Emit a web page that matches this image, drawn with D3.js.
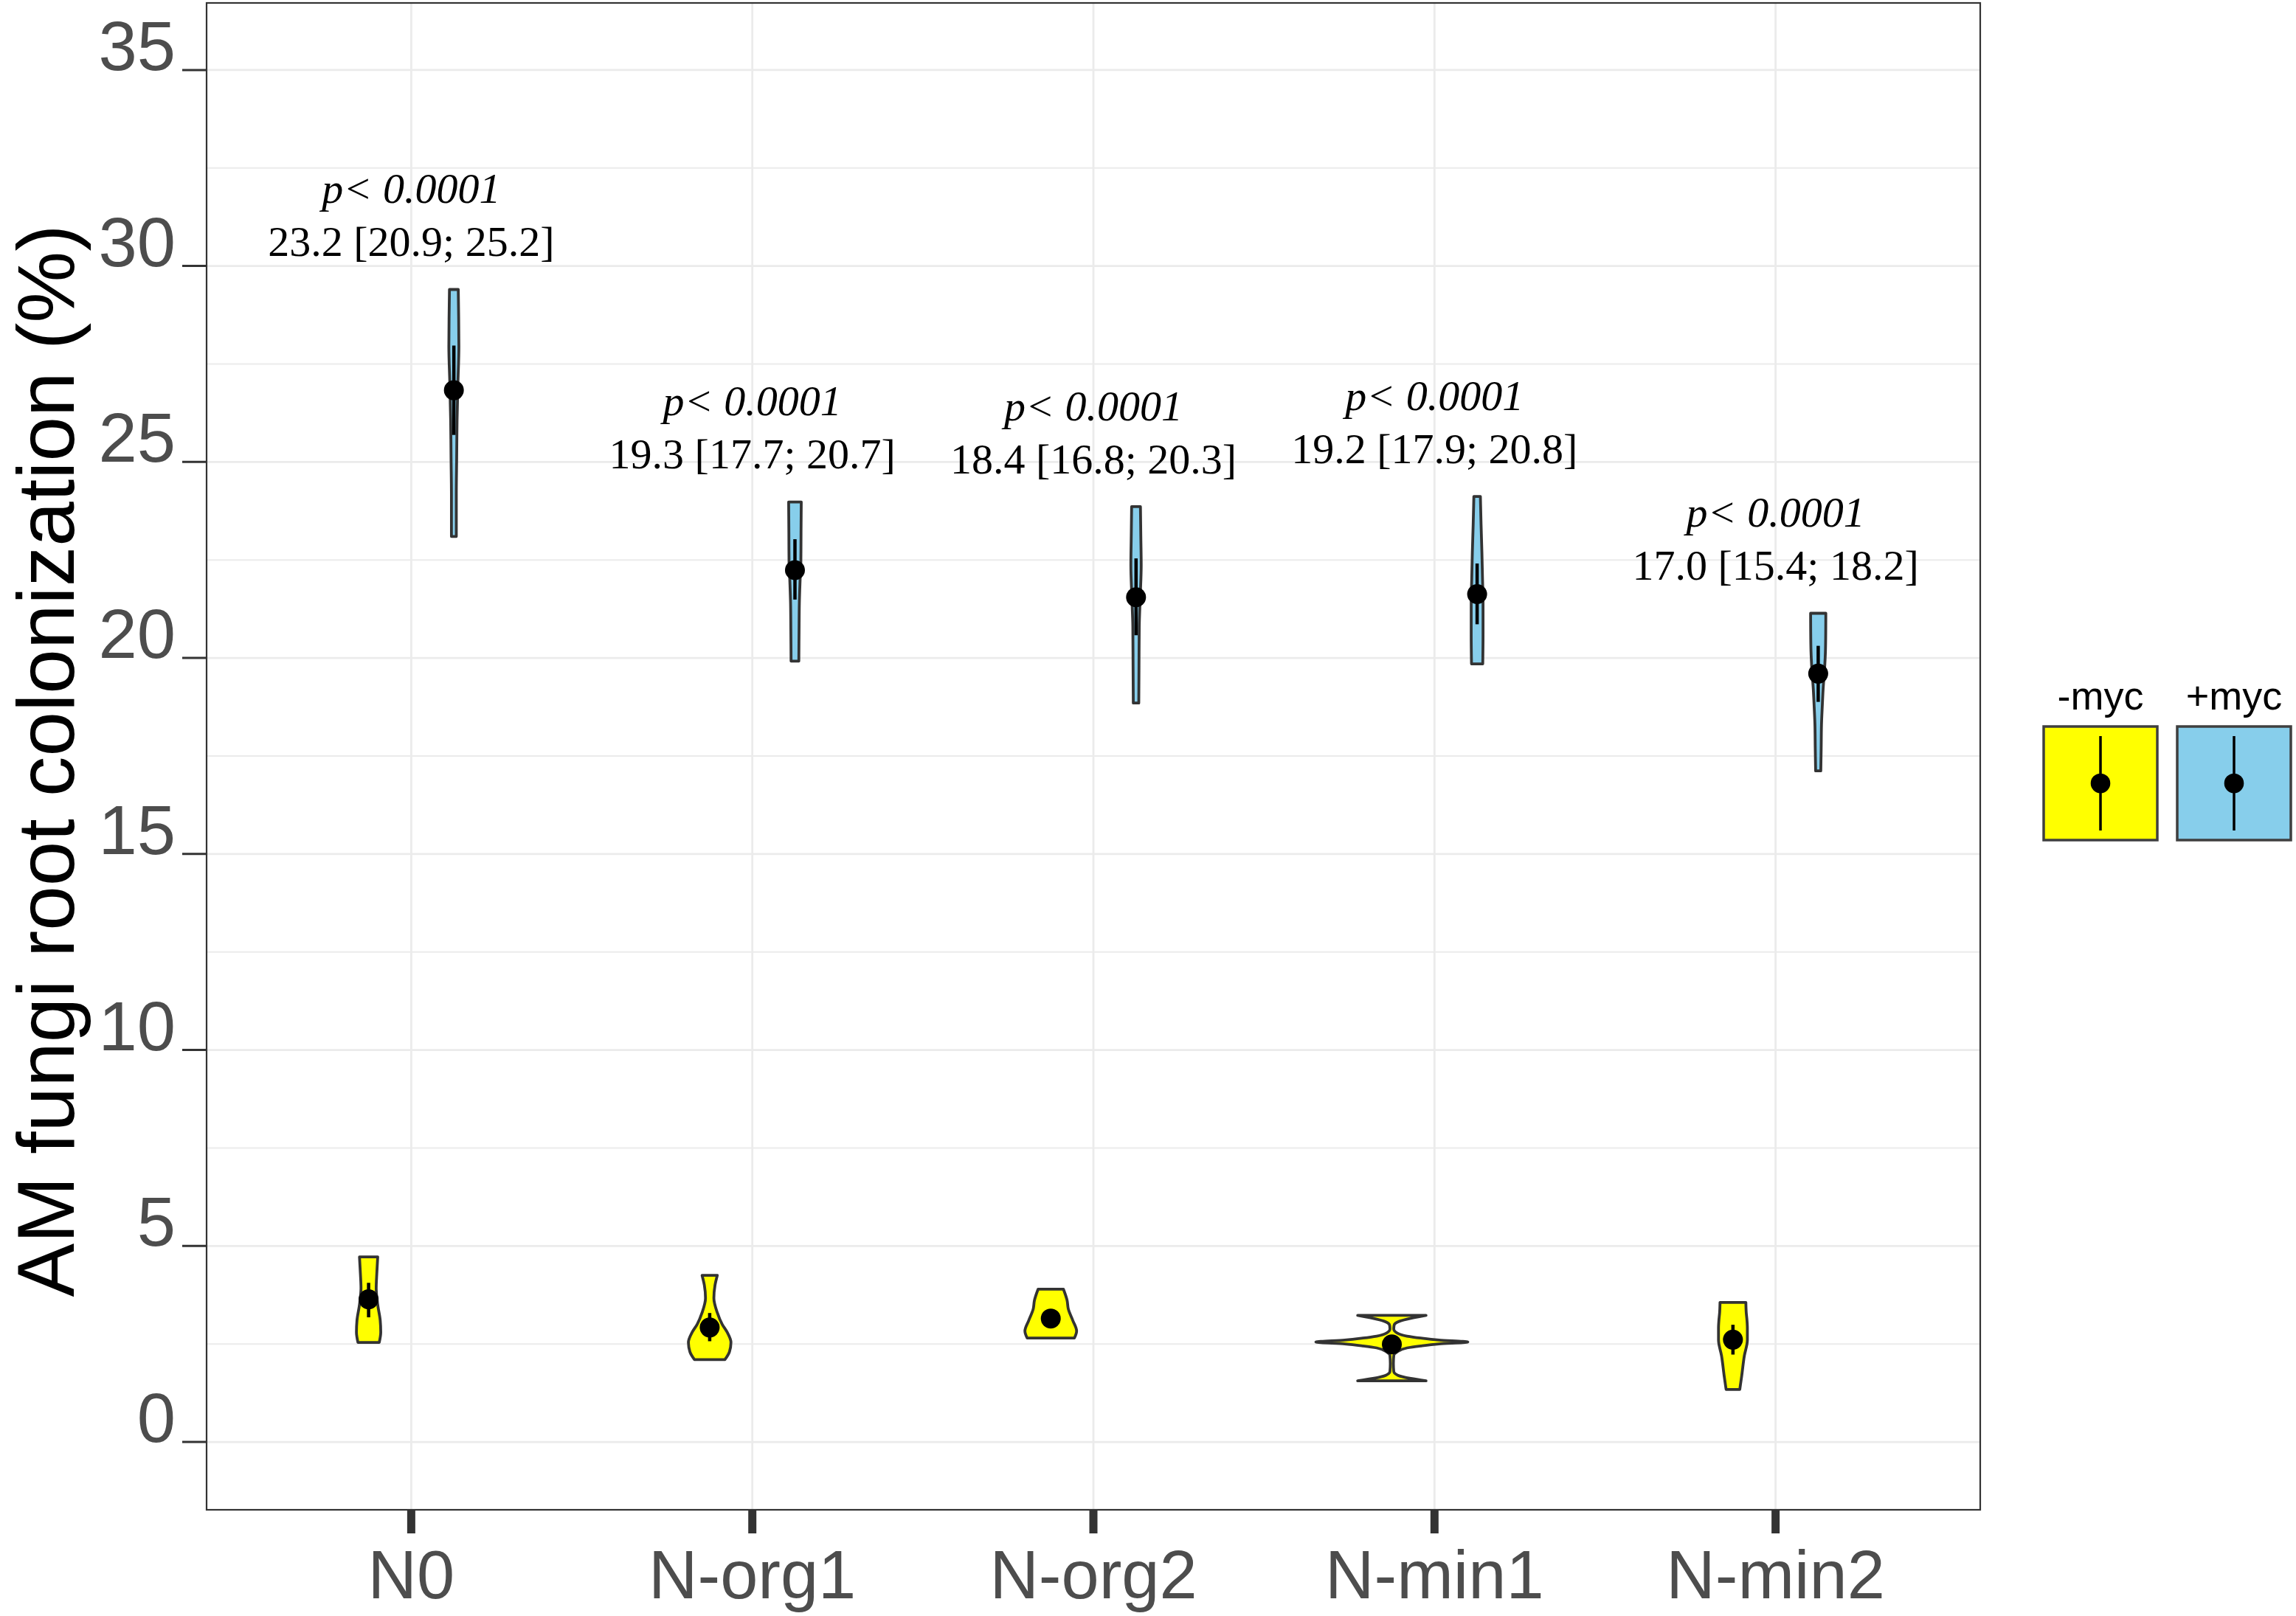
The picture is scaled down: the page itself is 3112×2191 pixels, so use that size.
<!DOCTYPE html>
<html>
<head>
<meta charset="utf-8">
<script src="https://cdn.jsdelivr.net/npm/d3@7"></script>
<style>
  html, body { margin: 0; padding: 0; background: #ffffff; }
  svg { display: block; }
</style>
</head>
<body>
<svg id="chart" width="3112" height="2191"></svg>
<script>
// ---------------- DATA ----------------
const categories = ["N0", "N-org1", "N-org2", "N-min1", "N-min2"];
const groups = ["-myc", "+myc"];
const groupColors = ["#FFFF00", "#87CEEB"];
const yTickValues = [0, 5, 10, 15, 20, 25, 30, 35];
const yMinorValues = [2.5, 7.5, 12.5, 17.5, 22.5, 27.5, 32.5];

// violin density profiles: [value, relative density]
const violinMinus = [
  [[2.54,0.14],[2.8,0.16],[3.1,0.153],[3.5,0.12],[3.92,0.10],[4.3,0.108],[4.72,0.12]],
  [[2.10,0.20],[2.3,0.26],[2.54,0.28],[2.8,0.23],[3.0,0.165],[3.3,0.10],[3.67,0.055],[4.0,0.07],[4.25,0.10]],
  [[2.65,0.31],[2.83,0.34],[3.1,0.29],[3.4,0.23],[3.61,0.215],[3.90,0.166]],
  [[1.56,0.45],[1.62,0.25],[1.70,0.08],[1.80,0.025],[2.0,0.02],[2.2,0.025],[2.30,0.07],[2.40,0.2],[2.45,0.38],[2.50,0.62],[2.55,1.0],[2.60,0.62],[2.65,0.38],[2.70,0.2],[2.78,0.07],[2.88,0.025],[2.98,0.03],[3.08,0.1],[3.16,0.26],[3.23,0.45]],
  [[1.34,0.09],[1.68,0.115],[2.2,0.15],[2.6,0.19],[2.9,0.19],[3.1,0.185],[3.3,0.175],[3.56,0.17]]
];
const violinPlus = [
  [[23.10,0.032],[24.18,0.032],[25.1,0.037],[26.06,0.042],[27.0,0.053],[27.94,0.066],[28.7,0.063],[29.40,0.058]],
  [[19.92,0.051],[20.7,0.054],[21.42,0.058],[22.0,0.068],[22.49,0.078],[23.2,0.08],[23.98,0.083]],
  [[18.85,0.036],[19.8,0.039],[20.79,0.042],[21.6,0.056],[22.36,0.068],[23.1,0.063],[23.86,0.058]],
  [[19.85,0.074],[20.6,0.078],[21.42,0.078],[22.0,0.071],[22.68,0.063],[23.4,0.052],[24.12,0.043]],
  [[17.12,0.034],[17.7,0.039],[18.29,0.043],[18.75,0.053],[19.22,0.065],[19.7,0.083],[20.17,0.095],[20.7,0.099],[21.14,0.10]]
];

// point estimates and intervals
const pointMinus = [3.64, 2.92, 3.15, 2.49, 2.61];
const ciMinusLow = [3.18, 2.57, 3.02, 2.40, 2.23];
const ciMinusHigh = [4.06, 3.29, 3.28, 2.58, 2.99];
const pointPlus = [26.83, 22.24, 21.55, 21.63, 19.60];
const ciPlusLow = [25.69, 21.49, 20.58, 20.86, 18.88];
const ciPlusHigh = [27.97, 23.03, 22.54, 22.41, 20.31];

// annotation labels
const pLabels = ["p< 0.0001", "p< 0.0001", "p< 0.0001", "p< 0.0001", "p< 0.0001"];
const diffLabels = ["23.2 [20.9; 25.2]", "19.3 [17.7; 20.7]", "18.4 [16.8; 20.3]", "19.2 [17.9; 20.8]", "17.0 [15.4; 18.2]"];

const yTitle = "AM fungi root colonization (%)";

// ---------------- LAYOUT ----------------
const panel = { left: 280, right: 2684, top: 4, bottom: 2047 };
const svg = d3.select("#chart");

const x = d3.scalePoint().domain(categories).range([panel.left, panel.right]).padding(0.6);
const step = x.step();
const dodge = d3.scalePoint().domain(groups).range([-step * 0.125, step * 0.125]);
const y = d3.scaleLinear().domain([-1.73, 36.71]).range([panel.bottom, panel.top]);
const w = d3.scaleLinear().domain([0, 1]).range([0, 103]);

// ---------------- GRID ----------------
const grid = svg.append("g");
grid.selectAll(".minor").data(yMinorValues).join("line")
  .attr("x1", panel.left).attr("x2", panel.right)
  .attr("y1", d => y(d)).attr("y2", d => y(d))
  .attr("stroke", "#ebebeb").attr("stroke-width", 2);
grid.selectAll(".major").data(yTickValues).join("line")
  .attr("x1", panel.left).attr("x2", panel.right)
  .attr("y1", d => y(d)).attr("y2", d => y(d))
  .attr("stroke", "#ebebeb").attr("stroke-width", 2.8);
grid.selectAll(".vmajor").data(categories).join("line")
  .attr("x1", d => x(d)).attr("x2", d => x(d))
  .attr("y1", panel.top).attr("y2", panel.bottom)
  .attr("stroke", "#ebebeb").attr("stroke-width", 2.8);

// ---------------- VIOLINS ----------------
const violinSets = [violinMinus, violinPlus];
const pointSets = [pointMinus, pointPlus];
const lowSets = [ciMinusLow, ciPlusLow];
const highSets = [ciMinusHigh, ciPlusHigh];

const marks = svg.append("g");
groups.forEach((g, gi) => {
  categories.forEach((c, ci) => {
    const cx = x(c) + dodge(g);
    const area = d3.area()
      .y(d => y(d[0]))
      .x0(d => cx - w(d[1]))
      .x1(d => cx + w(d[1]))
      .curve(d3.curveMonotoneY);
    marks.append("path")
      .datum(violinSets[gi][ci])
      .attr("d", area)
      .attr("fill", groupColors[gi])
      .attr("stroke", "#333333")
      .attr("stroke-width", 3.8)
      .attr("stroke-linejoin", "round");
  });
});
groups.forEach((g, gi) => {
  categories.forEach((c, ci) => {
    const cx = x(c) + dodge(g);
    marks.append("line")
      .attr("x1", cx).attr("x2", cx)
      .attr("y1", y(lowSets[gi][ci])).attr("y2", y(highSets[gi][ci]))
      .attr("stroke", "#000").attr("stroke-width", 4.5);
    marks.append("circle")
      .attr("cx", cx).attr("cy", y(pointSets[gi][ci]))
      .attr("r", 13.5).attr("fill", "#000");
  });
});

// ---------------- ANNOTATIONS ----------------
const ann = svg.append("g").attr("font-family", "'Liberation Serif', 'Times New Roman', serif")
  .attr("font-size", 58).attr("fill", "#000").attr("text-anchor", "middle");
categories.forEach((c, ci) => {
  const top = d3.max(violinPlus[ci], d => d[0]);
  const base = y(top + 0.85);
  ann.append("text").attr("x", x(c)).attr("y", base - 72)
    .attr("font-style", "italic").text(pLabels[ci]);
  ann.append("text").attr("x", x(c)).attr("y", base).text(diffLabels[ci]);
});

// ---------------- PANEL BORDER ----------------
svg.append("rect")
  .attr("x", panel.left).attr("y", panel.top)
  .attr("width", panel.right - panel.left).attr("height", panel.bottom - panel.top)
  .attr("fill", "none").attr("stroke", "#333333").attr("stroke-width", 2.2);

// ---------------- AXES ----------------
const yAxis = svg.append("g");
yAxis.selectAll("line").data(yTickValues).join("line")
  .attr("x1", panel.left - 33).attr("x2", panel.left)
  .attr("y1", d => y(d)).attr("y2", d => y(d))
  .attr("stroke", "#333333").attr("stroke-width", 3);
yAxis.selectAll("text").data(yTickValues).join("text")
  .attr("x", 238).attr("y", d => y(d))
  .attr("text-anchor", "end")
  .attr("font-family", "'Liberation Sans', Arial, sans-serif")
  .attr("font-size", 94).attr("fill", "#4d4d4d")
  .text(d => d);

const xAxis = svg.append("g");
xAxis.selectAll("line").data(categories).join("line")
  .attr("x1", d => x(d)).attr("x2", d => x(d))
  .attr("y1", panel.bottom).attr("y2", panel.bottom + 32)
  .attr("stroke", "#333333").attr("stroke-width", 11);
xAxis.selectAll("text").data(categories).join("text")
  .attr("x", d => x(d)).attr("y", 2167)
  .attr("text-anchor", "middle")
  .attr("font-family", "'Liberation Sans', Arial, sans-serif")
  .attr("font-size", 92).attr("fill", "#4d4d4d")
  .text(d => d);

svg.append("text")
  .attr("transform", `translate(100, ${(panel.top + panel.bottom) / 2 + 6}) rotate(-90)`)
  .attr("text-anchor", "middle")
  .attr("font-family", "'Liberation Sans', Arial, sans-serif")
  .attr("font-size", 109).attr("fill", "#000")
  .text(yTitle);

// ---------------- LEGEND ----------------
const legend = svg.append("g");
const keyX = d3.scalePoint().domain(groups).range([2770, 2951]);
const keySize = 154, keyTop = 985;
groups.forEach((g, gi) => {
  const kx = keyX(g);
  const kcx = kx + keySize / 2;
  legend.append("rect").attr("x", kx).attr("y", keyTop)
    .attr("width", keySize).attr("height", keySize)
    .attr("fill", groupColors[gi]).attr("stroke", "#3f3f3f").attr("stroke-width", 3.5);
  legend.append("line").attr("x1", kcx).attr("x2", kcx)
    .attr("y1", keyTop + 13).attr("y2", keyTop + 141)
    .attr("stroke", "#000").attr("stroke-width", 3.5);
  legend.append("circle").attr("cx", kcx).attr("cy", keyTop + keySize / 2)
    .attr("r", 13.3).attr("fill", "#000");
  legend.append("text").attr("x", kcx).attr("y", 962)
    .attr("text-anchor", "middle")
    .attr("font-family", "'Liberation Sans', Arial, sans-serif")
    .attr("font-size", 54).attr("fill", "#000")
    .text(g);
});
</script>
</body>
</html>
